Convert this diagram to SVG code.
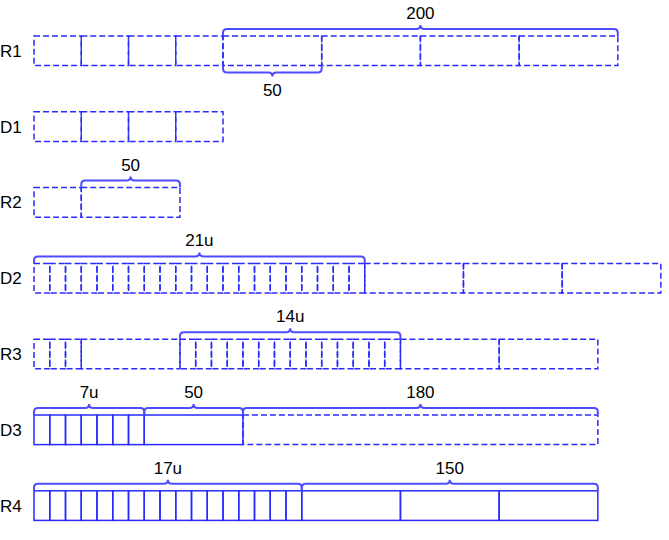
<svg xmlns="http://www.w3.org/2000/svg" width="669" height="540" viewBox="0 0 669 540">
<style>
rect{fill:none;stroke:#2a2aff;stroke-width:1.5}
.d{stroke-dasharray:6,3}
.br{fill:none;stroke:#4d4dff;stroke-width:2}
text{font-family:"Liberation Sans",Arial,sans-serif;font-size:17px;fill:#000}
.m{text-anchor:middle}
</style>
<rect x="0" y="0" width="669" height="540" style="fill:#fff;stroke:none"/>
<g id="R1">
<text x="0" y="56.7">R1</text>
<rect class="d" x="34" y="36" width="47.25" height="29.6"/>
<rect class="d" x="81.25" y="36" width="47.25" height="29.6"/>
<rect class="d" x="128.5" y="36" width="47.25" height="29.6"/>
<rect class="d" x="175.75" y="36" width="47.25" height="29.6"/>
<rect class="d" x="223" y="36" width="98.7" height="29.6"/>
<rect class="d" x="321.7" y="36" width="98.7" height="29.6"/>
<rect class="d" x="420.4" y="36" width="98.7" height="29.6"/>
<rect class="d" x="519.1" y="36" width="98.7" height="29.6"/>
</g>
<g id="D1">
<text x="0" y="132.5">D1</text>
<rect class="d" x="34" y="111.8" width="47.25" height="29.6"/>
<rect class="d" x="81.25" y="111.8" width="47.25" height="29.6"/>
<rect class="d" x="128.5" y="111.8" width="47.25" height="29.6"/>
<rect class="d" x="175.75" y="111.8" width="47.25" height="29.6"/>
</g>
<g id="R2">
<text x="0" y="208.3">R2</text>
<rect class="d" x="34" y="187.6" width="47.25" height="29.6"/>
<rect class="d" x="81.25" y="187.6" width="98.7" height="29.6"/>
</g>
<g id="D2">
<text x="0" y="284.1">D2</text>
<rect class="d" x="34" y="263.4" width="15.75" height="29.6"/>
<rect class="d" x="49.75" y="263.4" width="15.75" height="29.6"/>
<rect class="d" x="65.5" y="263.4" width="15.75" height="29.6"/>
<rect class="d" x="81.25" y="263.4" width="15.75" height="29.6"/>
<rect class="d" x="97" y="263.4" width="15.75" height="29.6"/>
<rect class="d" x="112.75" y="263.4" width="15.75" height="29.6"/>
<rect class="d" x="128.5" y="263.4" width="15.75" height="29.6"/>
<rect class="d" x="144.25" y="263.4" width="15.75" height="29.6"/>
<rect class="d" x="160" y="263.4" width="15.75" height="29.6"/>
<rect class="d" x="175.75" y="263.4" width="15.75" height="29.6"/>
<rect class="d" x="191.5" y="263.4" width="15.75" height="29.6"/>
<rect class="d" x="207.25" y="263.4" width="15.75" height="29.6"/>
<rect class="d" x="223" y="263.4" width="15.75" height="29.6"/>
<rect class="d" x="238.75" y="263.4" width="15.75" height="29.6"/>
<rect class="d" x="254.5" y="263.4" width="15.75" height="29.6"/>
<rect class="d" x="270.25" y="263.4" width="15.75" height="29.6"/>
<rect class="d" x="286" y="263.4" width="15.75" height="29.6"/>
<rect class="d" x="301.75" y="263.4" width="15.75" height="29.6"/>
<rect class="d" x="317.5" y="263.4" width="15.75" height="29.6"/>
<rect class="d" x="333.25" y="263.4" width="15.75" height="29.6"/>
<rect class="d" x="349" y="263.4" width="15.75" height="29.6"/>
<rect class="d" x="364.75" y="263.4" width="98.7" height="29.6"/>
<rect class="d" x="463.45" y="263.4" width="98.7" height="29.6"/>
<rect class="d" x="562.15" y="263.4" width="98.7" height="29.6"/>
</g>
<g id="R3">
<text x="0" y="359.9">R3</text>
<rect class="d" x="34" y="339.2" width="15.75" height="29.6"/>
<rect class="d" x="49.75" y="339.2" width="15.75" height="29.6"/>
<rect class="d" x="65.5" y="339.2" width="15.75" height="29.6"/>
<rect class="d" x="81.25" y="339.2" width="98.7" height="29.6"/>
<rect class="d" x="179.95" y="339.2" width="15.75" height="29.6"/>
<rect class="d" x="195.7" y="339.2" width="15.75" height="29.6"/>
<rect class="d" x="211.45" y="339.2" width="15.75" height="29.6"/>
<rect class="d" x="227.2" y="339.2" width="15.75" height="29.6"/>
<rect class="d" x="242.95" y="339.2" width="15.75" height="29.6"/>
<rect class="d" x="258.7" y="339.2" width="15.75" height="29.6"/>
<rect class="d" x="274.45" y="339.2" width="15.75" height="29.6"/>
<rect class="d" x="290.2" y="339.2" width="15.75" height="29.6"/>
<rect class="d" x="305.95" y="339.2" width="15.75" height="29.6"/>
<rect class="d" x="321.7" y="339.2" width="15.75" height="29.6"/>
<rect class="d" x="337.45" y="339.2" width="15.75" height="29.6"/>
<rect class="d" x="353.2" y="339.2" width="15.75" height="29.6"/>
<rect class="d" x="368.95" y="339.2" width="15.75" height="29.6"/>
<rect class="d" x="384.7" y="339.2" width="15.75" height="29.6"/>
<rect class="d" x="400.45" y="339.2" width="98.7" height="29.6"/>
<rect class="d" x="499.15" y="339.2" width="98.7" height="29.6"/>
</g>
<g id="D3">
<text x="0" y="435.7">D3</text>
<rect class="d" x="242.95" y="415" width="354.9" height="29.6"/>
<rect x="34" y="415" width="15.75" height="29.6"/>
<rect x="49.75" y="415" width="15.75" height="29.6"/>
<rect x="65.5" y="415" width="15.75" height="29.6"/>
<rect x="81.25" y="415" width="15.75" height="29.6"/>
<rect x="97" y="415" width="15.75" height="29.6"/>
<rect x="112.75" y="415" width="15.75" height="29.6"/>
<rect x="128.5" y="415" width="15.75" height="29.6"/>
<rect x="144.25" y="415" width="98.7" height="29.6"/>
</g>
<g id="R4">
<text x="0" y="511.5">R4</text>
<rect x="34" y="490.8" width="15.75" height="29.6"/>
<rect x="49.75" y="490.8" width="15.75" height="29.6"/>
<rect x="65.5" y="490.8" width="15.75" height="29.6"/>
<rect x="81.25" y="490.8" width="15.75" height="29.6"/>
<rect x="97" y="490.8" width="15.75" height="29.6"/>
<rect x="112.75" y="490.8" width="15.75" height="29.6"/>
<rect x="128.5" y="490.8" width="15.75" height="29.6"/>
<rect x="144.25" y="490.8" width="15.75" height="29.6"/>
<rect x="160" y="490.8" width="15.75" height="29.6"/>
<rect x="175.75" y="490.8" width="15.75" height="29.6"/>
<rect x="191.5" y="490.8" width="15.75" height="29.6"/>
<rect x="207.25" y="490.8" width="15.75" height="29.6"/>
<rect x="223" y="490.8" width="15.75" height="29.6"/>
<rect x="238.75" y="490.8" width="15.75" height="29.6"/>
<rect x="254.5" y="490.8" width="15.75" height="29.6"/>
<rect x="270.25" y="490.8" width="15.75" height="29.6"/>
<rect x="286" y="490.8" width="15.75" height="29.6"/>
<rect x="301.75" y="490.8" width="98.7" height="29.6"/>
<rect x="400.45" y="490.8" width="98.7" height="29.6"/>
<rect x="499.15" y="490.8" width="98.7" height="29.6"/>
</g>
<g id="braces">
<path class="br" d="M223,36 V33 Q223,29 227,29 H416.4 Q420.4,29 420.4,25 Q420.4,29 424.4,29 H613.8 Q617.8,29 617.8,33 V36"/>
<path class="br" d="M223,65.6 V68.6 Q223,72.6 227,72.6 H268.35 Q272.35,72.6 272.35,76.6 Q272.35,72.6 276.35,72.6 H317.7 Q321.7,72.6 321.7,68.6 V65.6"/>
<path class="br" d="M81.25,187.6 V184.6 Q81.25,180.6 85.25,180.6 H126.6 Q130.6,180.6 130.6,176.6 Q130.6,180.6 134.6,180.6 H175.95 Q179.95,180.6 179.95,184.6 V187.6"/>
<path class="br" d="M34,263.4 V260.4 Q34,256.4 38,256.4 H195.4 Q199.4,256.4 199.4,252.4 Q199.4,256.4 203.4,256.4 H360.75 Q364.75,256.4 364.75,260.4 V263.4"/>
<path class="br" d="M179.95,339.2 V336.2 Q179.95,332.2 183.95,332.2 H286.2 Q290.2,332.2 290.2,328.2 Q290.2,332.2 294.2,332.2 H396.45 Q400.45,332.2 400.45,336.2 V339.2"/>
<path class="br" d="M34,415 V412 Q34,408 38,408 H85.1 Q89.1,408 89.1,404 Q89.1,408 93.1,408 H140.25 Q144.25,408 144.25,412 V415"/>
<path class="br" d="M144.25,415 V412 Q144.25,408 148.25,408 H189.6 Q193.6,408 193.6,404 Q193.6,408 197.6,408 H238.95 Q242.95,408 242.95,412 V415"/>
<path class="br" d="M242.95,415 V412 Q242.95,408 246.95,408 H416.4 Q420.4,408 420.4,404 Q420.4,408 424.4,408 H593.85 Q597.85,408 597.85,412 V415"/>
<path class="br" d="M34,490.8 V487.8 Q34,483.8 38,483.8 H163.9 Q167.9,483.8 167.9,479.8 Q167.9,483.8 171.9,483.8 H297.75 Q301.75,483.8 301.75,487.8 V490.8"/>
<path class="br" d="M301.75,490.8 V487.8 Q301.75,483.8 305.75,483.8 H445.8 Q449.8,483.8 449.8,479.8 Q449.8,483.8 453.8,483.8 H593.85 Q597.85,483.8 597.85,487.8 V490.8"/>
<text class="m" x="420.4" y="18.5">200</text>
<text class="m" x="272.35" y="96">50</text>
<text class="m" x="130.6" y="170.6">50</text>
<text class="m" x="199.4" y="246">21u</text>
<text class="m" x="290.2" y="322">14u</text>
<text class="m" x="89.1" y="398">7u</text>
<text class="m" x="193.6" y="398">50</text>
<text class="m" x="420.4" y="398">180</text>
<text class="m" x="167.9" y="473.8">17u</text>
<text class="m" x="449.8" y="473.8">150</text>
</g>
</svg>
